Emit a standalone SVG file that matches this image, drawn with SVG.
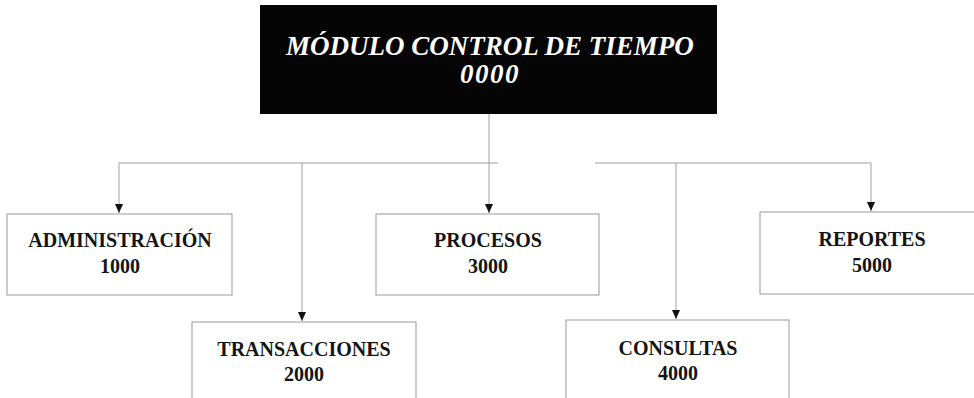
<svg xmlns="http://www.w3.org/2000/svg" width="974" height="398" viewBox="0 0 974 398">
<style>
.box{fill:#fff;stroke:#9a9a9a;stroke-width:1}
.lbl{font-family:"Liberation Serif","Times New Roman",serif;font-weight:bold;font-size:20px;fill:#141414;text-anchor:middle}
.title{font-family:"Liberation Serif","Times New Roman",serif;font-weight:bold;font-style:italic;font-size:27px;fill:#fff;text-anchor:middle}
.conn{fill:none;stroke:#a0a0a0;stroke-width:1}
</style>
<defs>
<marker id="arr" markerUnits="userSpaceOnUse" markerWidth="10" markerHeight="10" refX="9" refY="5" orient="auto">
<path d="M0,1 L9,5 L0,9 Z" fill="#111"/>
</marker>
</defs>
<rect width="974" height="398" fill="#fff"/>
<g id="connectors">
<path class="conn" d="M489,114 V163"/>
<path class="conn" d="M119,163 H498"/>
<path class="conn" d="M595,163 H871"/>
<path class="conn" d="M119,163 V213" marker-end="url(#arr)"/>
<path class="conn" d="M302,163 V321" marker-end="url(#arr)"/>
<path class="conn" d="M489,163 V213" marker-end="url(#arr)"/>
<path class="conn" d="M676,163 V319" marker-end="url(#arr)"/>
<path class="conn" d="M871,163 V211" marker-end="url(#arr)"/>
</g>
<g id="node-0000">
<rect x="260" y="5" width="457" height="109" fill="#050505"/>
<text class="title" x="490" y="55">MÓDULO CONTROL DE TIEMPO</text>
<text class="title" x="490" y="83" style="letter-spacing:1.5px">0000</text>
</g>
<g id="node-1000">
<rect class="box" x="7" y="214" width="225" height="81"/>
<text class="lbl" x="120" y="247">ADMINISTRACIÓN</text>
<text class="lbl" x="120" y="273">1000</text>
</g>
<g id="node-2000">
<rect class="box" x="192" y="322" width="224" height="100"/>
<text class="lbl" x="304" y="356">TRANSACCIONES</text>
<text class="lbl" x="304" y="381">2000</text>
</g>
<g id="node-3000">
<rect class="box" x="376" y="214" width="223" height="81"/>
<text class="lbl" x="488" y="247">PROCESOS</text>
<text class="lbl" x="488" y="273">3000</text>
</g>
<g id="node-4000">
<rect class="box" x="566" y="320" width="223" height="100"/>
<text class="lbl" x="678" y="355">CONSULTAS</text>
<text class="lbl" x="678" y="380">4000</text>
</g>
<g id="node-5000">
<rect class="box" x="760" y="212" width="230" height="82"/>
<text class="lbl" x="872" y="246">REPORTES</text>
<text class="lbl" x="872" y="272">5000</text>
</g>
</svg>
